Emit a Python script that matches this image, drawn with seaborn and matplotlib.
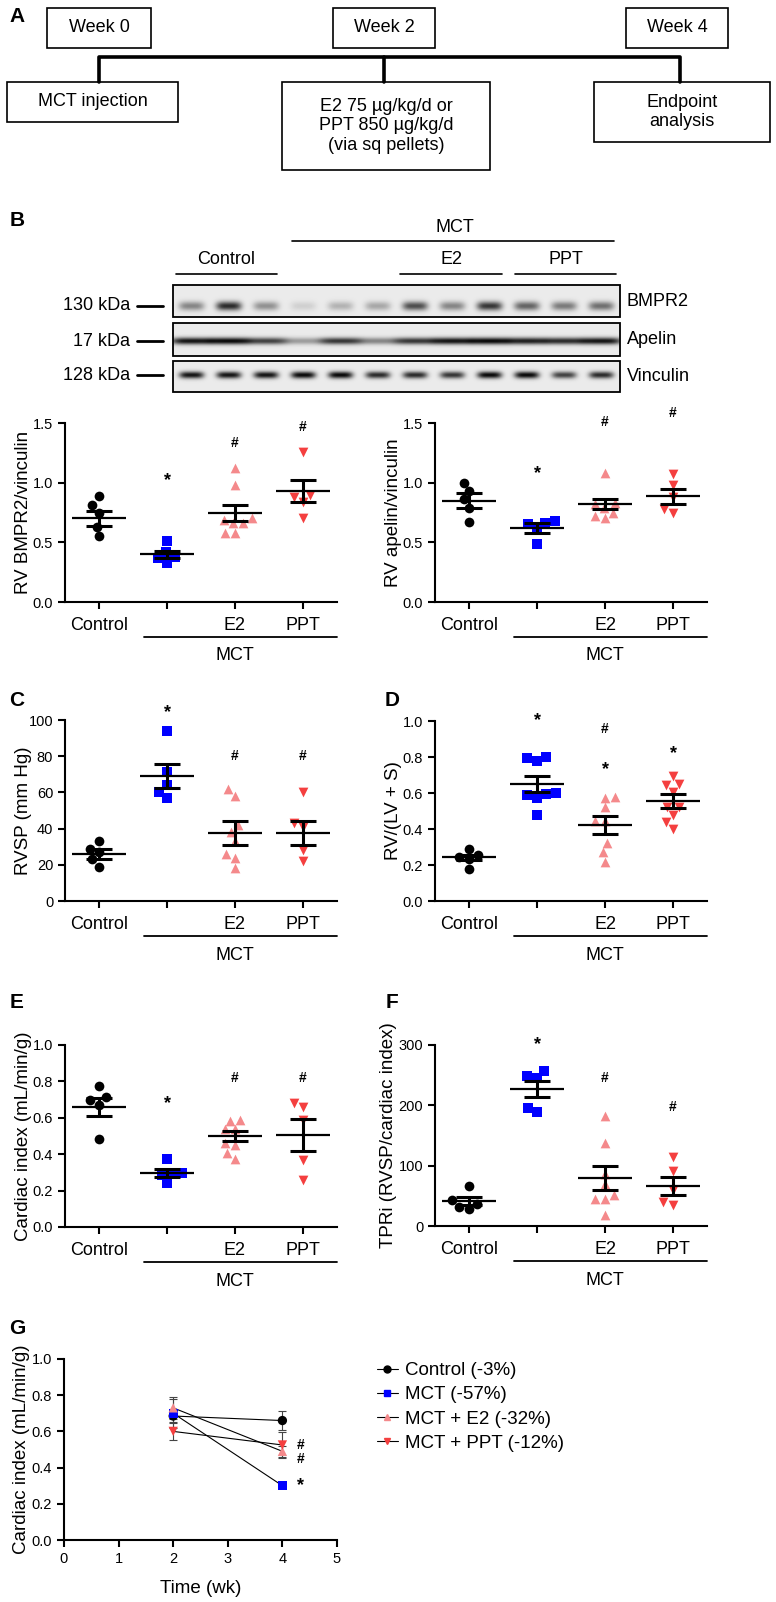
import numpy as np
import pandas as pd
import matplotlib
matplotlib.use("Agg")
import matplotlib.pyplot as plt
import seaborn as sns
from matplotlib.patches import Rectangle
from matplotlib.lines import Line2D

W, H = 776, 1602

groups = ["Control", "MCT", "MCT + E2", "MCT + PPT"]
tick_names = ["Control", "", "E2", "PPT"]
colors = ["#000000", "#0000FF", "#F4898B", "#F43F3F"]
markers = ["o", "s", "^", "v"]

# B, RV BMPR2/vinculin
bmpr2_control = [0.89, 0.81, 0.75, 0.63, 0.55]
bmpr2_mct = [0.51, 0.42, 0.38, 0.37, 0.33]
bmpr2_e2 = [1.12, 0.98, 0.70, 0.69, 0.66, 0.66, 0.58, 0.58]
bmpr2_ppt = [1.26, 0.90, 0.88, 0.84, 0.70]
bmpr2_mean = [0.70, 0.40, 0.745, 0.93]
bmpr2_sem = [0.065, 0.03, 0.07, 0.095]

# B, RV apelin/vinculin
apelin_control = [1.00, 0.93, 0.86, 0.79, 0.67]
apelin_mct = [0.68, 0.66, 0.65, 0.61, 0.49]
apelin_e2 = [1.08, 0.83, 0.82, 0.79, 0.75, 0.72, 0.70]
apelin_ppt = [1.07, 0.98, 0.88, 0.78, 0.75]
apelin_mean = [0.85, 0.62, 0.82, 0.885]
apelin_sem = [0.06, 0.04, 0.04, 0.06]

# C, RVSP
rvsp_control = [33, 29, 27, 23, 19]
rvsp_mct = [94, 71, 64, 60, 57]
rvsp_e2 = [62, 58, 42, 38, 33, 26, 24, 18.5]
rvsp_ppt = [60, 43, 41, 28, 22]
rvsp_mean = [26.2, 69, 37.5, 37.7]
rvsp_sem = [2.8, 6.7, 6.5, 6.5]

# D, RV/(LV+S)
fulton_control = [0.29, 0.255, 0.245, 0.235, 0.18]
fulton_mct = [0.80, 0.797, 0.78, 0.60, 0.593, 0.587, 0.57, 0.48]
fulton_e2 = [0.578, 0.574, 0.52, 0.444, 0.444, 0.32, 0.27, 0.217]
fulton_ppt = [0.693, 0.648, 0.643, 0.606, 0.522, 0.522, 0.48, 0.44, 0.40]
fulton_mean = [0.243, 0.652, 0.422, 0.554]
fulton_sem = [0.015, 0.044, 0.048, 0.038]

# E, cardiac index
ci_control = [0.776, 0.712, 0.70, 0.673, 0.484]
ci_mct = [0.376, 0.297, 0.29, 0.288, 0.242]
ci_e2 = [0.59, 0.583, 0.536, 0.536, 0.464, 0.45, 0.407, 0.376]
ci_ppt = [0.68, 0.657, 0.59, 0.367, 0.257]
ci_mean = [0.66, 0.295, 0.50, 0.505]
ci_sem = [0.05, 0.022, 0.027, 0.086]

# F, TPRi
tpri_control = [66, 43, 37, 31.5, 28]
tpri_mct = [257, 248, 245, 196, 189]
tpri_e2 = [182, 138, 87, 70, 52, 44, 44, 19]
tpri_ppt = [115, 91, 60, 40, 35]
tpri_mean = [41, 227, 79.7, 66.4]
tpri_sem = [7, 14, 19.6, 15]

# G, cardiac index over time
weeks = [2, 4]
g_control = [0.685, 0.66]
g_mct = [0.70, 0.30]
g_e2 = [0.73, 0.49]
g_ppt = [0.60, 0.525]
g_control_err = [0.04, 0.05]
g_mct_err = [0.08, 0.015]
g_e2_err = [0.06, 0.03]
g_ppt_err = [0.05, 0.07]
g_legend = ["Control (-3%)", "MCT (-57%)", "MCT + E2 (-32%)", "MCT + PPT (-12%)"]

# western blot band strength per lane (12 lanes)
blot_bmpr2 = [0.45, 0.85, 0.40, 0.12, 0.25, 0.30, 0.70, 0.45, 0.80, 0.60, 0.50, 0.55]
blot_apelin = [0.95, 1.0, 0.75, 0.35, 0.80, 0.45, 0.80, 0.95, 1.0, 0.90, 0.85, 0.95]
blot_vinculin = [0.95, 0.95, 0.95, 1.0, 1.0, 0.85, 0.85, 0.80, 1.0, 1.0, 0.75, 0.85]

sns.set_style("ticks")
plt.rcParams["font.family"] = ["Liberation Sans", "DejaVu Sans"]
plt.rcParams.update({
    "axes.edgecolor": "black", "axes.linewidth": 1.5,
    "xtick.color": "black", "ytick.color": "black",
    "xtick.major.width": 1.5, "ytick.major.width": 1.5,
    "xtick.major.size": 5, "ytick.major.size": 5,
    "text.color": "black", "axes.labelcolor": "black",
})

fig = plt.figure(figsize=(W / 100, H / 100), dpi=100)

# overlay in pixel coords for schematic, blot and letters
ov = fig.add_axes([0, 0, 1, 1])
ov.set_xlim(0, W)
ov.set_ylim(H, 0)
ov.axis("off")


def rect(left, top, right, bottom):
    return [left / W, 1 - bottom / H, (right - left) / W, (bottom - top) / H]


# ---- panel A
boxes = [
    (47, 8, 151, 48, "Week 0"),
    (333, 8, 435, 48, "Week 2"),
    (626, 8, 728, 48, "Week 4"),
    (7, 82, 178, 122, "MCT injection"),
    (282, 82, 490, 170, "E2 75 µg/kg/d or\nPPT 850 µg/kg/d\n(via sq pellets)"),
    (594, 82, 770, 142, "Endpoint\nanalysis"),
]
for l, t, r, b, txt in boxes:
    ov.add_patch(Rectangle((l, t), r - l, b - t, fill=False, lw=1.2, ec="black"))
    ov.text((l + r) / 2, (t + b) / 2, txt, ha="center", va="center",
            fontsize=13, linespacing=1.2)
ov.plot([99, 99, 680, 680], [82, 57, 57, 82], color="black", lw=2.6,
        solid_joinstyle="round")
ov.plot([384, 384], [57, 82], color="black", lw=2.6)

# ---- panel B blot
ov.text(455, 227, "MCT", ha="center", va="center", fontsize=13)
ov.plot([292, 614], [241, 241], color="black", lw=1.2)
for x0, x1, lab in [(176, 277, "Control"), (400, 502, "E2"), (515, 616, "PPT")]:
    ov.plot([x0, x1], [274, 274], color="black", lw=1.2)
    ov.text((x0 + x1) / 2, 259, lab, ha="center", va="center", fontsize=13)

bl, br = 173, 620
strips = [
    (285, 317, 306, blot_bmpr2, 4.5, 0.34, "BMPR2", "130 kDa"),
    (323, 356, 341, blot_apelin, 3.5, 0.55, "Apelin", "17 kDa"),
    (361, 392, 375, blot_vinculin, 3.5, 0.33, "Vinculin", "128 kDa"),
]
for top, bot, yc, bands, sy, sx, name, kda in strips:
    nx, ny = br - bl, bot - top
    xx, yy = np.meshgrid(np.arange(nx) + 0.5, np.arange(ny) + 0.5 + top)
    lane_w = nx / len(bands)
    img = np.zeros_like(xx)
    for i, s in enumerate(bands):
        xc = (i + 0.5) * lane_w
        img += s * np.exp(-((xx - xc) / (sx * lane_w)) ** 4) * np.exp(-((yy - yc) / sy) ** 2)
    ov.imshow(0.92 - 0.88 * np.clip(img, 0, 1), cmap="gray", vmin=0, vmax=1,
              extent=(bl, br, bot, top), aspect="auto", interpolation="bilinear")
    ov.add_patch(Rectangle((bl, top), br - bl, bot - top, fill=False, lw=1.3, ec="black"))
    ov.text(627, (top + bot) / 2, name, ha="left", va="center", fontsize=13)
    ov.text(130, yc, kda, ha="right", va="center", fontsize=13)
    ov.plot([137, 163], [yc, yc], color="black", lw=2)
ov.set_xlim(0, W)
ov.set_ylim(H, 0)

# panel letters
for lab, x, y in [("A", 17, 16), ("B", 17, 221), ("C", 17, 700), ("D", 392, 700),
                  ("E", 17, 1002), ("F", 392, 1002), ("G", 17, 1328)]:
    ov.text(x, y, lab, ha="center", va="center", fontsize=15, fontweight="bold")


def scatter_panel(box, series, means, sems, ylim, yticks, fmt, ylabel, marks, label_x=-0.152):
    ax = fig.add_axes(rect(*box))
    for i, vals in enumerate(series):
        sns.swarmplot(x=[groups[i]] * len(vals), y=vals, order=groups, ax=ax,
                      color=colors[i], marker=markers[i], size=7, linewidth=0)
    x = np.arange(len(groups))
    hi = np.add(means, sems)
    lo = np.subtract(means, sems)
    ax.hlines(means, x - 0.4, x + 0.4, color="black", lw=1.6, zorder=5)
    ax.hlines(hi, x - 0.185, x + 0.185, color="black", lw=2.2, zorder=5)
    ax.hlines(lo, x - 0.185, x + 0.185, color="black", lw=2.2, zorder=5)
    ax.vlines(x, lo, hi, color="black", lw=2.2, zorder=5)
    for gi, txt, yv in marks:
        ax.text(gi, yv, txt, ha="center", va="center",
                fontsize=13 if txt == "*" else 10, fontweight="bold", clip_on=False)
    ax.set_xlim(-0.5, 3.5)
    ax.set_ylim(*ylim)
    ax.set_yticks(yticks)
    ax.set_yticklabels([fmt.format(v) for v in yticks], fontsize=10.5)
    ax.set_xticks(x)
    ax.set_xticklabels(tick_names, fontsize=13)
    ax.tick_params(axis="x", pad=6)
    ax.set_xlabel("")
    ax.set_ylabel(ylabel, fontsize=13.5, va="center")
    ax.yaxis.set_label_coords(label_x, 0.5)
    sns.despine(ax=ax)
    tr = ax.get_xaxis_transform()
    ax.plot([0.66, 3.5], [-0.195, -0.195], transform=tr, clip_on=False,
            color="black", lw=1.3)
    ax.text(2.0, -0.30, "MCT", transform=tr, ha="center", va="center", fontsize=13)
    return ax


scatter_panel((65, 423, 337, 602),
              [bmpr2_control, bmpr2_mct, bmpr2_e2, bmpr2_ppt], bmpr2_mean, bmpr2_sem,
              (0, 1.5), [0, 0.5, 1.0, 1.5], "{:.1f}", "RV BMPR2/vinculin",
              [(1, "*", 1.02), (2, "#", 1.33), (3, "#", 1.47)])
scatter_panel((435, 423, 707, 602),
              [apelin_control, apelin_mct, apelin_e2, apelin_ppt], apelin_mean, apelin_sem,
              (0, 1.5), [0, 0.5, 1.0, 1.5], "{:.1f}", "RV apelin/vinculin",
              [(1, "*", 1.08), (2, "#", 1.51), (3, "#", 1.58)])
scatter_panel((65, 720, 337, 901),
              [rvsp_control, rvsp_mct, rvsp_e2, rvsp_ppt], rvsp_mean, rvsp_sem,
              (0, 100), [0, 20, 40, 60, 80, 100], "{:.0f}", "RVSP (mm Hg)",
              [(1, "*", 104), (2, "#", 80), (3, "#", 80)])
scatter_panel((435, 721, 707, 901),
              [fulton_control, fulton_mct, fulton_e2, fulton_ppt], fulton_mean, fulton_sem,
              (0, 1.0), [0, 0.2, 0.4, 0.6, 0.8, 1.0], "{:.1f}", "RV/(LV + S)",
              [(1, "*", 1.0), (2, "#", 0.957), (2, "*", 0.73), (3, "*", 0.82)])
scatter_panel((65, 1045, 337, 1227),
              [ci_control, ci_mct, ci_e2, ci_ppt], ci_mean, ci_sem,
              (0, 1.0), [0, 0.2, 0.4, 0.6, 0.8, 1.0], "{:.1f}", "Cardiac index (mL/min/g)",
              [(1, "*", 0.68), (2, "#", 0.82), (3, "#", 0.817)])
scatter_panel((435, 1045, 707, 1226),
              [tpri_control, tpri_mct, tpri_e2, tpri_ppt], tpri_mean, tpri_sem,
              (0, 300), [0, 100, 200, 300], "{:.0f}", "TPRi (RVSP/cardiac index)",
              [(1, "*", 300), (2, "#", 246), (3, "#", 198)], label_x=-0.172)

# ---- panel G
axg = fig.add_axes(rect(64, 1359, 337, 1540))
g_vals = [g_control, g_mct, g_e2, g_ppt]
g_errs = [g_control_err, g_mct_err, g_e2_err, g_ppt_err]
gdf = pd.DataFrame({
    "week": weeks * len(groups),
    "ci": np.concatenate(g_vals),
    "err": np.concatenate(g_errs),
    "group": np.repeat(groups, len(weeks)),
})
sns.lineplot(data=gdf, x="week", y="ci", units="group", estimator=None,
             color="black", lw=0.8, ax=axg)
axg.errorbar(gdf["week"], gdf["ci"], yerr=gdf["err"], fmt="none",
             ecolor="#444444", elinewidth=0.8, capsize=3, capthick=0.8, zorder=2)
sns.scatterplot(data=gdf, x="week", y="ci", hue="group", style="group",
                palette=colors, markers=markers, hue_order=groups, style_order=groups,
                s=45, linewidth=0, ax=axg, legend=False, zorder=4)
for txt, yv in [("#", 0.525), ("#", 0.447), ("*", 0.30)]:
    axg.text(4.33, yv, txt, ha="center", va="center",
             fontsize=13 if txt == "*" else 10, fontweight="bold")
axg.set_xlim(0, 5)
axg.set_ylim(0, 1.0)
axg.set_xticks(range(6))
axg.set_xticklabels([str(v) for v in range(6)], fontsize=10.5)
axg.set_yticks([0, 0.2, 0.4, 0.6, 0.8, 1.0])
axg.set_yticklabels(["0.0", "0.2", "0.4", "0.6", "0.8", "1.0"], fontsize=10.5)
axg.set_xlabel("Time (wk)", fontsize=13.5, labelpad=10)
axg.set_ylabel("Cardiac index (mL/min/g)", fontsize=13.5, va="center")
axg.yaxis.set_label_coords(-0.154, 0.5)
sns.despine(ax=axg)

handles = [Line2D([0], [0], color="black", lw=0.8, marker=m, markersize=5,
                  markerfacecolor=c, markeredgecolor=c)
           for m, c in zip(markers, colors)]
fig.legend(handles, g_legend, loc="upper left",
           bbox_to_anchor=(377 / W, 1 - 1362 / H), frameon=False, fontsize=13.5,
           handlelength=1.1, handletextpad=0.4, labelspacing=0.38,
           borderpad=0, borderaxespad=0)

fig.savefig("out.png", dpi=100)
